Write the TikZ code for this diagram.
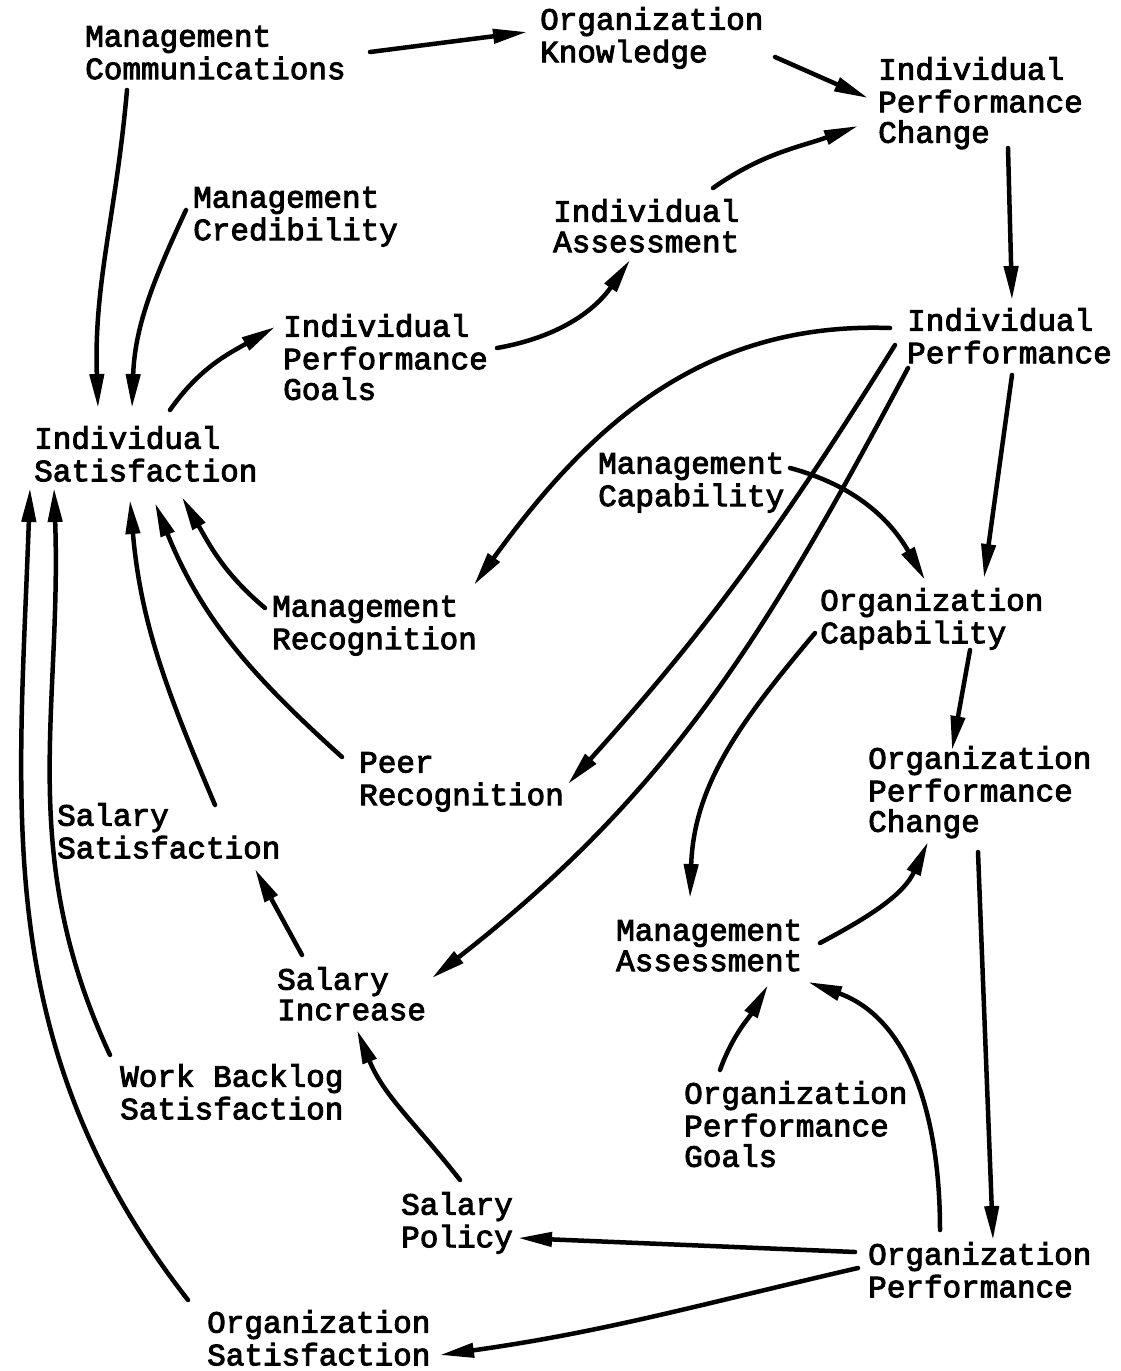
\documentclass[tikz,border=0pt]{standalone}
\usepackage{fontspec}
\newfontfamily\typewriter[FakeBold=3]{Liberation Mono}
\usetikzlibrary{arrows.meta,calc}

\tikzset{
  lbl/.style={anchor=north west, inner sep=0pt, align=left,
              font=\typewriter\fontsize{31}{30.5}\selectfont},
  link/.style={line width=4.5pt, line cap=round,
               -{Triangle[length=34pt,width=14pt]}},
}

\begin{document}
\begin{tikzpicture}[x=1pt,y=1pt]
\useasboundingbox (0,0) rectangle (1121,-1371);

% labels (typed variables of the model)
\node[lbl] (mcom)  at (85,-25)    {\strut Management\\Communications\strut};
\node[lbl] (okn)   at (540,-7)    {\strut Organization\\Knowledge\strut};
\node[lbl] (ipc)   at (878,-57)   {\strut Individual\\Performance\\Change\strut};
\node[lbl] (mcred) at (193,-186)  {\strut Management\\Credibility\strut};
\node[lbl] (ias)   at (553,-199)  {\strut Individual\\Assessment\strut};
\node[lbl] (ipg)   at (283,-314)  {\strut Individual\\Performance\\Goals\strut};
\node[lbl] (iperf) at (907,-308)  {\strut Individual\\Performance\strut};
\node[lbl] (isat)  at (34,-426)   {\strut Individual\\Satisfaction\strut};
\node[lbl] (mcap)  at (598,-452)  {\strut Management\\Capability\strut};
\node[lbl] (ocap)  at (820,-588)  {\strut Organization\\Capability\strut};
\node[lbl] (mrec)  at (272,-595)  {\strut Management\\Recognition\strut};
\node[lbl] (opc)   at (868,-746)  {\strut Organization\\Performance\\Change\strut};
\node[lbl] (peer)  at (359,-751)  {\strut Peer\\Recognition\strut};
\node[lbl] (ssat)  at (57,-803)   {\strut Salary\\Satisfaction\strut};
\node[lbl] (mas)   at (616,-919)  {\strut Management\\Assessment\strut};
\node[lbl] (sinc)  at (277,-967)  {\strut Salary\\Increase\strut};
\node[lbl] (wbs)   at (120,-1064) {\strut Work Backlog\\Satisfaction\strut};
\node[lbl] (opg)   at (684,-1081) {\strut Organization\\Performance\\Goals\strut};
\node[lbl] (spol)  at (401,-1192) {\strut Salary\\Policy\strut};
\node[lbl] (operf) at (868,-1242) {\strut Organization\\Performance\strut};
\node[lbl] (osat)  at (207,-1310) {\strut Organization\\Satisfaction};

% influence links
\draw[link] ($(mcom.north west)+(285,-27)$) -- ($(okn.north west)+(-13,-25)$);
\draw[link] ($(okn.north west)+(235,-50)$) -- ($(ipc.north west)+(-10,-41)$);
\draw[link] ($(ias.north west)+(160,11)$) to[out=35,in=200] ($(ipc.north west)+(-20,-69)$);
\draw[link] ($(ipc.north west)+(130,-91)$) -- ($(iperf.north west)+(105,8)$);
\draw[link] ($(ipg.north west)+(214,-34)$) to[out=10,in=-125] ($(ias.north west)+(77,-61)$);
\draw[link] ($(isat.north west)+(136,16)$) to[out=55,in=210] ($(ipg.north west)+(-8,-13)$);
\draw[link] ($(mcom.north west)+(42,-65)$) to[out=-95,in=92] ($(isat.north west)+(64,18)$);
\draw[link] ($(mcred.north west)+(-7,-24)$) to[out=-115,in=88] ($(isat.north west)+(98,18)$);

\draw[link] ($(iperf.north west)+(-17,-20)$) to[out=178,in=54] ($(mrec.north west)+(202,10)$);
\draw[link] ($(iperf.north west)+(-12,-37)$) to[out=-122,in=48] ($(peer.north west)+(209,-33)$);
\draw[link] ($(iperf.north west)+(1,-60)$) to[out=-118,in=38] ($(sinc.north west)+(155,-11)$);
\draw[link] ($(iperf.north west)+(105,-67)$) -- ($(ocap.north west)+(164,10)$);
\draw[link] ($(mcap.north west)+(192,-16)$) to[out=-15,in=120] ($(ocap.north west)+(105,8)$);
\draw[link] ($(ocap.north west)+(150,-62)$) -- ($(opc.north west)+(84,-4)$);
\draw[link] ($(ocap.north west)+(-5,-45)$) to[out=-130,in=88] ($(mas.north west)+(74,21)$);
\draw[link] ($(mas.north west)+(204,-24)$) to[out=28,in=-115] ($(opc.north west)+(60,-96)$);
\draw[link] ($(opc.north west)+(110,-106)$) -- ($(operf.north west)+(125,2)$);
\draw[link] ($(operf.north west)+(72,12)$) to[out=90,in=-20] ($(mas.north west)+(192,-63)$);
\draw[link] ($(opg.north west)+(36,11)$) to[out=70,in=-120] ($(mas.north west)+(152,-66)$);
\draw[link] ($(operf.north west)+(-13,-10)$) -- ($(spol.north west)+(117,-46)$);
\draw[link] ($(operf.north west)+(-10,-26)$) to[out=193,in=8] ($(osat.north west)+(233,-45)$);
\draw[link] ($(spol.north west)+(59,12)$) to[out=128,in=-68] ($(sinc.north west)+(80,-63)$);
\draw[link] ($(sinc.north west)+(25,12)$) -- ($(ssat.north west)+(198,-66)$);
\draw[link] ($(ssat.north west)+(158,-2)$) to[out=113,in=-85] ($(isat.north west)+(96,-74)$);
\draw[link] ($(peer.north west)+(-17,-6)$) to[out=138,in=-68] ($(isat.north west)+(121,-77)$);
\draw[link] ($(mrec.north west)+(-7,-13)$) to[out=140,in=-60] ($(isat.north west)+(148,-71)$);
\draw[link] ($(wbs.north west)+(-10,9)$) to[out=115,in=-88] ($(isat.north west)+(20,-62)$);
\draw[link] ($(osat.north west)+(-19,10)$) to[out=128,in=-92] ($(isat.north west)+(-4,-62)$);
\end{tikzpicture}
\end{document}
